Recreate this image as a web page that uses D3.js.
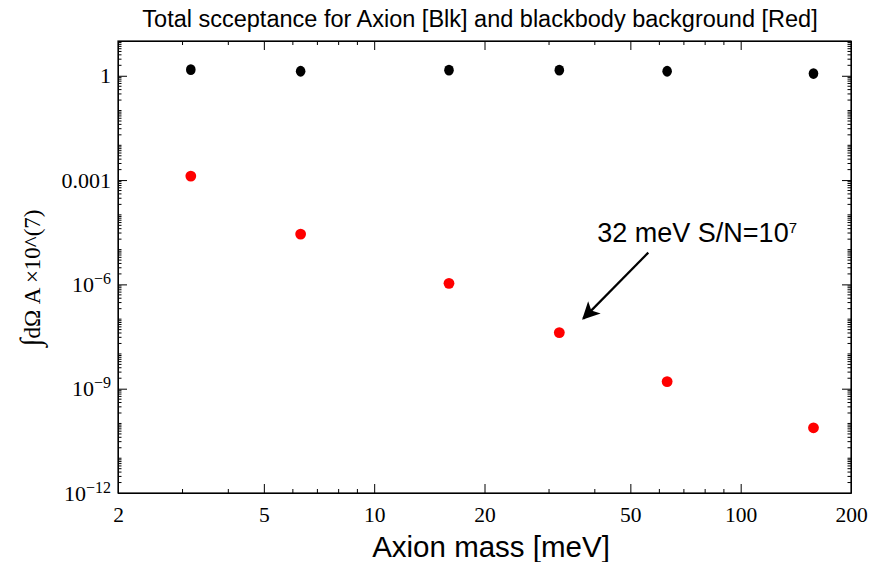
<!DOCTYPE html>
<html>
<head>
<meta charset="utf-8">
<script src="https://cdn.jsdelivr.net/npm/d3@7"></script>
<style>
	body { margin: 0; background: #fff; }
	.tick text { font-family: "Liberation Serif", "Times New Roman", serif; font-size: 21.5px; fill: #000; }
</style>
</head>
<body>
<div id="chart"></div>
<script>
// axion mass in meV
var masses = [3.16, 6.3, 16, 32, 63, 158];
// acceptance for the axion signal (black)
var axionValues = [1.5, 1.35, 1.45, 1.45, 1.35, 1.16];
// acceptance for the blackbody background (red)
var blackbodyValues = [1.3e-3, 2.8e-5, 1.07e-6, 4.1e-8, 1.6e-9, 7.5e-11];
var xTickValues = [2, 5, 10, 20, 50, 100, 200];
var yTickValues = [1e-12, 1e-9, 1e-6, 1e-3, 1];

var width = 882, height = 562;
var margin = {top: 41, right: 31, bottom: 69, left: 118};
var chartWidth = width - margin.left - margin.right,
	chartHeight = height - margin.top - margin.bottom;

var svg = d3.select("#chart").append("svg")
	.attr("width", width)
	.attr("height", height);

var x = d3.scaleLog().domain([2, 200]).range([0, chartWidth]);
var y = d3.scaleLog().domain([1e-12, 10]).range([chartHeight, 0]);

var g = svg.append("g")
	.attr("transform", "translate(" + margin.left + "," + margin.top + ")");

// minor ticks
var xMinor = [];
[1, 10, 100].forEach(function(d) {
	for (var k = 2; k <= 9; k++) { if (d * k > 2 && d * k < 200 && xTickValues.indexOf(d * k) < 0) xMinor.push(d * k); }
});
var yMinor = [];
for (var e = -12; e <= 0; e++) {
	for (var k = 1; k <= 9; k++) {
		var v = k * Math.pow(10, e);
		if (v < 10 && yTickValues.indexOf(v) < 0) yMinor.push(v);
	}
}

function yLabel(d) {
	return d >= 1e-3 ? (d === 1 ? "1" : "0.001") : null;
}

// bottom axis
var xAxis = g.append("g")
	.attr("class", "x axis")
	.attr("transform", "translate(0," + chartHeight + ")")
	.call(d3.axisBottom(x).tickValues(xTickValues).tickFormat(d3.format("d")).tickSizeInner(-9).tickSizeOuter(0).tickPadding(14));
xAxis.append("g").selectAll("line").data(xMinor).enter().append("line")
	.attr("x1", function(d) { return x(d); }).attr("x2", function(d) { return x(d); })
	.attr("y1", 0).attr("y2", -4).attr("stroke", "#000");

// top axis
var xTop = g.append("g")
	.call(d3.axisTop(x).tickValues(xTickValues).tickFormat("").tickSizeInner(-9).tickSizeOuter(0));
xTop.append("g").selectAll("line").data(xMinor).enter().append("line")
	.attr("x1", function(d) { return x(d); }).attr("x2", function(d) { return x(d); })
	.attr("y1", 0).attr("y2", 4).attr("stroke", "#000");

// left axis
var yAxis = g.append("g")
	.attr("class", "y axis")
	.call(d3.axisLeft(y).tickValues(yTickValues).tickFormat("").tickSizeInner(-9).tickSizeOuter(0));
yAxis.selectAll(".tick").each(function(d) {
	var t = d3.select(this).append("text")
		.attr("x", -7).attr("dy", "0.32em")
		.attr("text-anchor", "end")
		.style("font-size", "22px");
	if (yLabel(d)) {
		t.text(yLabel(d));
	} else {
		var ex = Math.round(Math.log10(d));
		t.append("tspan").text("10");
		t.append("tspan").attr("dy", "-0.5em").style("font-size", "16px").text("\u2212" + Math.abs(ex));
	}
});
yAxis.append("g").selectAll("line").data(yMinor).enter().append("line")
	.attr("y1", function(d) { return y(d); }).attr("y2", function(d) { return y(d); })
	.attr("x1", 0).attr("x2", 3.5)
	.attr("stroke", "#000");

// right axis
var yRight = g.append("g")
	.attr("transform", "translate(" + chartWidth + ",0)")
	.call(d3.axisRight(y).tickValues(yTickValues).tickFormat("").tickSizeInner(-9).tickSizeOuter(0));
yRight.append("g").selectAll("line").data(yMinor).enter().append("line")
	.attr("y1", function(d) { return y(d); }).attr("y2", function(d) { return y(d); })
	.attr("x1", 0).attr("x2", -3.5)
	.attr("stroke", "#000");

g.selectAll(".domain").attr("stroke", "#000").attr("stroke-width", 1);

// frame
g.append("rect")
	.attr("width", chartWidth).attr("height", chartHeight)
	.attr("fill", "none").attr("stroke", "#000").attr("stroke-width", 1.2);

// points
g.selectAll(".axion")
	.data(masses)
  .enter().append("ellipse")
	.attr("class", "axion")
	.attr("cx", function(d) { return x(d); })
	.attr("cy", function(d, i) { return y(axionValues[i]); })
	.attr("rx", 4.8).attr("ry", 5.4)
	.attr("fill", "#000");

g.selectAll(".bb")
	.data(masses)
  .enter().append("circle")
	.attr("class", "bb")
	.attr("cx", function(d) { return x(d); })
	.attr("cy", function(d, i) { return y(blackbodyValues[i]); })
	.attr("r", 5.4)
	.attr("fill", "#ff0000");

// annotation for 32 meV point
var ax = x(masses[3]), ay = y(blackbodyValues[3]);
svg.append("defs").append("marker")
	.attr("id", "arrow")
	.attr("viewBox", "0 0 10 10")
	.attr("refX", 9).attr("refY", 5)
	.attr("markerWidth", 9).attr("markerHeight", 8)
	.attr("markerUnits", "strokeWidth")
	.attr("orient", "auto")
  .append("path")
	.attr("d", "M0,0 L10,5 L0,10 L2.5,5 Z")
	.attr("fill", "#000");

g.append("line")
	.attr("x1", ax + 89).attr("y1", ay - 80)
	.attr("x2", ax + 24).attr("y2", ay - 14)
	.attr("stroke", "#000").attr("stroke-width", 2.2)
	.attr("marker-end", "url(#arrow)");

var ann = g.append("text")
	.attr("x", ax + 38).attr("y", ay - 91)
	.attr("font-family", "Liberation Sans, Arial, sans-serif")
	.attr("font-size", "27px");
ann.append("tspan").text("32 meV S/N=10");
ann.append("tspan").attr("dy", "-0.6em").attr("font-size", "15px").text("7");

// title
svg.append("text")
	.attr("x", 480).attr("y", 27)
	.attr("text-anchor", "middle")
	.attr("font-family", "Liberation Sans, Arial, sans-serif")
	.attr("font-size", "23.5px")
	.text("Total scceptance for Axion [Blk] and blackbody background [Red]");

// x label
svg.append("text")
	.attr("x", 491).attr("y", 557)
	.attr("text-anchor", "middle")
	.attr("font-family", "Liberation Sans, Arial, sans-serif")
	.attr("font-size", "29.5px")
	.text("Axion mass [meV]");

// y label
var yl = svg.append("text")
	.attr("transform", "translate(40,278) rotate(-90)")
	.attr("text-anchor", "middle")
	.attr("font-family", "Liberation Serif, Times New Roman, serif")
	.attr("font-size", "23px");
yl.append("tspan").attr("font-size", "29px").text("\u222B");
yl.append("tspan").text("dΩ A \u00D710^(7)");
</script>
</body>
</html>
